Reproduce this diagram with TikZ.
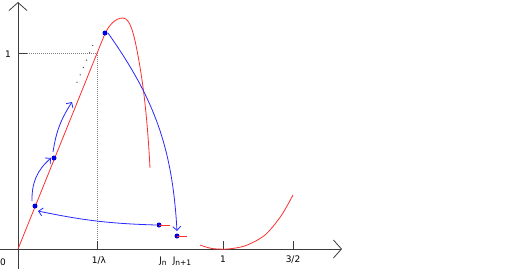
\documentclass[tikz,border=0pt]{standalone}
\usepackage{fontspec}
\setmainfont{DejaVu Sans}
\usetikzlibrary{arrows.meta, calc}
\definecolor{mred}{RGB}{255,45,45}
\definecolor{mblue}{RGB}{40,40,255}
\definecolor{dblue}{RGB}{0,0,225}
\definecolor{axgray}{RGB}{60,60,60}
\newcommand{\jsub}[1]{\raisebox{-2.5pt}{\fontsize{7.5}{8}\selectfont #1}}

\begin{document}
\begin{tikzpicture}[
  x=1pt, y=-1pt, font=\fontsize{9}{10}\selectfont,
  axis/.style={line width=0.8pt, axgray, -{Straight Barb[length=8pt, width=18pt]}},
  tick/.style={line width=0.8pt, axgray},
  guide/.style={line width=0.7pt, gray, dash pattern=on 1pt off 1pt},
  map/.style={line width=0.8pt, mred},
  jump/.style={line width=0.8pt, mblue, -{Straight Barb[length=4pt, width=8pt]}},
  pt/.style={circle, fill=dblue, inner sep=0pt, minimum size=5pt},
  lab/.style={anchor=base, inner sep=0pt},
]
\useasboundingbox (0,0) rectangle (525,269);

% ---- axes and ticks
\draw[axis] (0,249) -- (342,249);
\draw[axis] (18,269) -- (18,2);
\draw[tick] (97,241) -- (97,249);
\draw[tick] (223,241) -- (223,249);
\draw[tick] (293,241) -- (293,249);
\draw[tick] (18,53) -- (27,53);
\draw[guide] (27,53) -- (97,53) -- (97,241);
\draw[line width=1pt, black!70, dash pattern=on 1pt off 7pt] (93,45) -- (75,87);

% ---- the map
\draw[map] (18,249) -- (104,36) .. controls (109,24) and (116,18) .. (123,18)
  .. controls (131,18) and (135,38) .. (140,67) .. controls (145,97) and (148,130) .. (150,168);
\draw[map] plot[smooth] coordinates {(200,245) (212,248.5) (228,249) (246,245.5) (265,235) (281,216) (293,195)};

% ---- orbit points
\node[pt] (p0) at (35,206) {};
\node[pt] (p1) at (54,158) {};
\node[pt] (top) at (105,33) {};
\node[pt] (jn) at (159,225) {};
\node[pt] (jm) at (177,236) {};
\coordinate (c1) at (72,102);
\draw[map] (jn.center) -- ++(11,0);
\draw[map] (jm.center) -- ++(10,0);

% ---- jumps
\draw[jump] ($(p0)+(-3,-5)$) to[bend left=25] ($(p1)+(-3,0)$);
\draw[jump] ($(p1)+(-1,-6)$) to[bend left=12] (c1);
\draw[jump] ($(top)+(3,0)$) to[bend left=16] ($(jm)+(0,-5)$);
\draw[jump] ($(jn)+(-3,0)$) to[bend left=5] ($(p0)+(3,5)$);

% ---- labels
\node[lab] (l0) at (3,265) {0};
\node[lab] (ly) at (8,57) {1};
\node[lab] (ll) at (99,263) {1/λ};
\node[lab] (ln) at (163,263) {J\jsub{n}};
\node[lab] (lm) at (182,263) {J\jsub{n+1}};
\node[lab] (l1) at (223,262) {1};
\node[lab] (l32) at (293,262) {3/2};

\end{tikzpicture}
\end{document}
